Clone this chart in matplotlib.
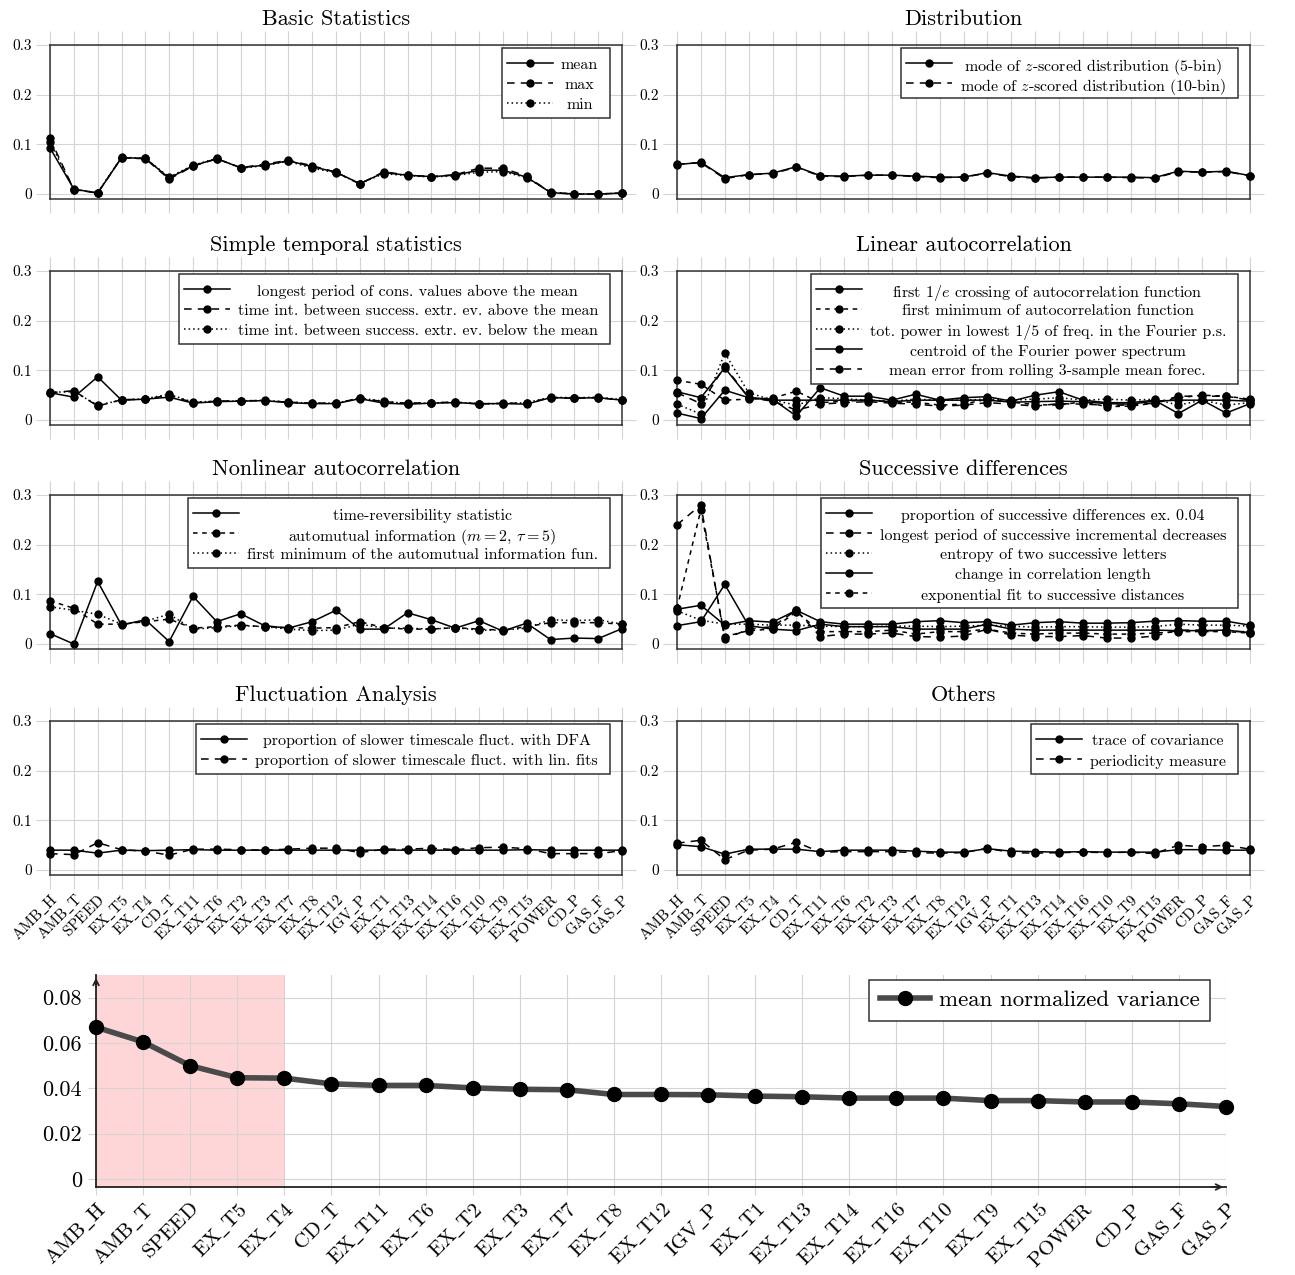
import numpy as np
import matplotlib.pyplot as plt
from matplotlib.lines import Line2D
from matplotlib.patches import Rectangle
from matplotlib.transforms import Affine2D

plt.rcParams['font.family'] = ['cmr10', 'DejaVu Serif']
plt.rcParams['mathtext.fontset'] = 'cm'
plt.rcParams['axes.formatter.use_mathtext'] = True
plt.rcParams['axes.unicode_minus'] = False

# sensors, ordered by mean normalized variance
sensors = ['AMB_H', 'AMB_T', 'SPEED', 'EX_T5', 'EX_T4', 'CD_T', 'EX_T11', 'EX_T6',
           'EX_T2', 'EX_T3', 'EX_T7', 'EX_T8', 'EX_T12', 'IGV_P', 'EX_T1', 'EX_T13',
           'EX_T14', 'EX_T16', 'EX_T10', 'EX_T9', 'EX_T15', 'POWER', 'CD_P', 'GAS_F', 'GAS_P']

mean_norm_var = [0.0670, 0.0605, 0.0500, 0.0447, 0.0445, 0.0420, 0.0413, 0.0413, 0.0402,
                 0.0396, 0.0394, 0.0373, 0.0373, 0.0372, 0.0366, 0.0363, 0.0357, 0.0357,
                 0.0357, 0.0346, 0.0346, 0.0340, 0.0340, 0.0332, 0.0320]

# Basic statistics
bs_mean = [0.093, 0.010, 0.002, 0.073, 0.072, 0.032, 0.057, 0.071, 0.053, 0.058, 0.067, 0.055, 0.044,
           0.021, 0.043, 0.038, 0.035, 0.038, 0.048, 0.048, 0.034, 0.003, 0.000, 0.000, 0.002]
bs_max = [0.112, 0.009, 0.002, 0.073, 0.071, 0.030, 0.056, 0.071, 0.053, 0.060, 0.068, 0.057, 0.044,
          0.020, 0.045, 0.038, 0.035, 0.039, 0.052, 0.052, 0.036, 0.003, 0.000, 0.000, 0.002]
bs_min = [0.105, 0.009, 0.003, 0.074, 0.072, 0.034, 0.058, 0.072, 0.052, 0.057, 0.066, 0.052, 0.043,
          0.021, 0.041, 0.037, 0.034, 0.037, 0.044, 0.045, 0.033, 0.004, 0.000, 0.000, 0.002]

# Distribution
dist_5 = [0.059, 0.064, 0.033, 0.039, 0.042, 0.055, 0.037, 0.036, 0.038, 0.038, 0.036, 0.034, 0.034,
          0.043, 0.036, 0.033, 0.034, 0.034, 0.034, 0.034, 0.033, 0.046, 0.044, 0.046, 0.037]
dist_10 = [0.060, 0.063, 0.031, 0.039, 0.041, 0.054, 0.036, 0.035, 0.038, 0.038, 0.035, 0.033, 0.034,
           0.042, 0.035, 0.032, 0.034, 0.034, 0.034, 0.033, 0.032, 0.045, 0.044, 0.045, 0.037]

# Simple temporal statistics
st_longest = [0.055, 0.046, 0.087, 0.040, 0.042, 0.046, 0.034, 0.037, 0.038, 0.039, 0.035, 0.033, 0.033,
              0.043, 0.034, 0.032, 0.034, 0.035, 0.033, 0.033, 0.032, 0.045, 0.044, 0.045, 0.040]
st_above = [0.055, 0.059, 0.028, 0.041, 0.042, 0.050, 0.035, 0.038, 0.039, 0.039, 0.036, 0.034, 0.034,
            0.044, 0.037, 0.034, 0.035, 0.036, 0.032, 0.034, 0.034, 0.045, 0.044, 0.045, 0.040]
st_below = [0.056, 0.057, 0.030, 0.040, 0.043, 0.052, 0.036, 0.038, 0.038, 0.040, 0.036, 0.034, 0.034,
            0.044, 0.038, 0.033, 0.034, 0.036, 0.033, 0.033, 0.035, 0.046, 0.045, 0.046, 0.041]

# Linear autocorrelation
la_e_cross = [0.014, 0.003, 0.060, 0.045, 0.042, 0.008, 0.065, 0.048, 0.048, 0.040, 0.052, 0.040, 0.045,
              0.047, 0.038, 0.050, 0.057, 0.040, 0.035, 0.035, 0.040, 0.013, 0.040, 0.014, 0.033]
la_first_min = [0.080, 0.072, 0.040, 0.042, 0.044, 0.058, 0.035, 0.038, 0.040, 0.036, 0.036, 0.030, 0.032,
                0.042, 0.036, 0.031, 0.030, 0.037, 0.027, 0.028, 0.034, 0.045, 0.050, 0.048, 0.042]
la_low_power = [0.032, 0.012, 0.135, 0.055, 0.040, 0.030, 0.045, 0.043, 0.040, 0.038, 0.042, 0.040, 0.040,
                0.042, 0.040, 0.042, 0.045, 0.040, 0.042, 0.040, 0.042, 0.030, 0.040, 0.030, 0.035]
la_centroid = [0.057, 0.045, 0.105, 0.045, 0.040, 0.040, 0.040, 0.040, 0.040, 0.037, 0.040, 0.040, 0.040,
               0.040, 0.036, 0.037, 0.038, 0.037, 0.033, 0.032, 0.038, 0.040, 0.040, 0.040, 0.038]
la_mean_err = [0.055, 0.033, 0.108, 0.045, 0.038, 0.020, 0.032, 0.035, 0.037, 0.034, 0.032, 0.028, 0.030,
               0.035, 0.032, 0.028, 0.033, 0.032, 0.030, 0.030, 0.034, 0.048, 0.048, 0.048, 0.040]

# Nonlinear autocorrelation
na_trev = [0.021, 0.000, 0.126, 0.038, 0.049, 0.005, 0.096, 0.045, 0.061, 0.037, 0.032, 0.045, 0.068,
           0.030, 0.030, 0.063, 0.049, 0.032, 0.047, 0.026, 0.042, 0.009, 0.012, 0.011, 0.031]
na_ami = [0.087, 0.072, 0.040, 0.040, 0.045, 0.050, 0.032, 0.035, 0.038, 0.035, 0.033, 0.032, 0.033,
          0.045, 0.033, 0.030, 0.030, 0.033, 0.030, 0.028, 0.035, 0.043, 0.043, 0.043, 0.040]
na_ami_min = [0.075, 0.068, 0.060, 0.040, 0.046, 0.060, 0.030, 0.033, 0.037, 0.035, 0.030, 0.027, 0.028,
              0.040, 0.032, 0.032, 0.030, 0.033, 0.028, 0.028, 0.032, 0.049, 0.047, 0.049, 0.040]

# Successive differences
sd_prop = [0.070, 0.078, 0.038, 0.047, 0.044, 0.068, 0.045, 0.040, 0.040, 0.040, 0.045, 0.047, 0.043,
           0.045, 0.038, 0.043, 0.045, 0.042, 0.042, 0.043, 0.046, 0.047, 0.046, 0.046, 0.038]
sd_decr = [0.240, 0.280, 0.010, 0.030, 0.035, 0.068, 0.015, 0.020, 0.020, 0.022, 0.015, 0.014, 0.016,
           0.030, 0.018, 0.015, 0.015, 0.017, 0.012, 0.012, 0.016, 0.028, 0.028, 0.025, 0.025]
sd_entropy = [0.067, 0.048, 0.040, 0.040, 0.038, 0.038, 0.036, 0.035, 0.035, 0.036, 0.036, 0.035, 0.036,
              0.038, 0.036, 0.034, 0.035, 0.035, 0.034, 0.034, 0.035, 0.040, 0.038, 0.038, 0.036]
sd_corr_len = [0.037, 0.045, 0.120, 0.037, 0.030, 0.027, 0.040, 0.035, 0.035, 0.035, 0.030, 0.030, 0.030,
               0.040, 0.030, 0.028, 0.028, 0.028, 0.028, 0.028, 0.028, 0.027, 0.027, 0.028, 0.023]
sd_exp_fit = [0.072, 0.270, 0.015, 0.027, 0.030, 0.065, 0.025, 0.025, 0.025, 0.028, 0.020, 0.025, 0.025,
              0.030, 0.022, 0.020, 0.022, 0.022, 0.020, 0.020, 0.022, 0.025, 0.025, 0.025, 0.022]

# Fluctuation analysis
fa_dfa = [0.040, 0.040, 0.034, 0.040, 0.039, 0.040, 0.041, 0.040, 0.040, 0.040, 0.040, 0.040, 0.040,
          0.040, 0.040, 0.040, 0.040, 0.040, 0.040, 0.040, 0.041, 0.040, 0.040, 0.040, 0.040]
fa_lin = [0.033, 0.031, 0.055, 0.041, 0.038, 0.030, 0.042, 0.042, 0.041, 0.040, 0.042, 0.044, 0.044,
          0.035, 0.042, 0.042, 0.044, 0.041, 0.045, 0.046, 0.043, 0.033, 0.033, 0.033, 0.039]

# Others
ot_trace = [0.051, 0.047, 0.032, 0.042, 0.042, 0.042, 0.037, 0.040, 0.040, 0.040, 0.038, 0.036, 0.036,
            0.043, 0.038, 0.037, 0.036, 0.037, 0.036, 0.036, 0.036, 0.041, 0.041, 0.040, 0.040]
ot_period = [0.054, 0.060, 0.021, 0.040, 0.042, 0.056, 0.036, 0.037, 0.037, 0.037, 0.035, 0.034, 0.035,
             0.044, 0.035, 0.034, 0.035, 0.036, 0.035, 0.036, 0.033, 0.050, 0.047, 0.050, 0.042]

SOLID = '-'
DASH = (0, (5, 4))
DDASH = (0, (3, 3))
DOT = (0, (1, 2))

panels = [
    ('Basic Statistics', [('mean', bs_mean, SOLID), ('max', bs_max, DASH), ('min', bs_min, DOT)]),
    ('Distribution', [(r'mode of $z$-scored distribution (5-bin)', dist_5, SOLID),
                      (r'mode of $z$-scored distribution (10-bin)', dist_10, DASH)]),
    ('Simple temporal statistics', [
        ('longest period of cons. values above the mean', st_longest, SOLID),
        ('time int. between success. extr. ev. above the mean', st_above, DASH),
        ('time int. between success. extr. ev. below the mean', st_below, DOT)]),
    ('Linear autocorrelation', [
        (r'first $1/e$ crossing of autocorrelation function', la_e_cross, SOLID),
        ('first minimum of autocorrelation function', la_first_min, DDASH),
        ('tot. power in lowest 1/5 of freq. in the Fourier p.s.', la_low_power, DOT),
        ('centroid of the Fourier power spectrum', la_centroid, SOLID),
        ('mean error from rolling 3-sample mean forec.', la_mean_err, DASH)]),
    ('Nonlinear autocorrelation', [
        ('time-reversibility statistic', na_trev, SOLID),
        (r'automutual information ($m = 2$, $\tau = 5$)', na_ami, DDASH),
        ('first minimum of the automutual information fun.', na_ami_min, DOT)]),
    ('Successive differences', [
        ('proportion of successive differences ex. 0.04', sd_prop, SOLID),
        ('longest period of successive incremental decreases', sd_decr, DASH),
        ('entropy of two successive letters', sd_entropy, DOT),
        ('change in correlation length', sd_corr_len, SOLID),
        ('exponential fit to successive distances', sd_exp_fit, DDASH)]),
    ('Fluctuation Analysis', [
        ('proportion of slower timescale fluct. with DFA', fa_dfa, SOLID),
        ('proportion of slower timescale fluct. with lin. fits', fa_lin, DASH)]),
    ('Others', [('trace of covariance', ot_trace, SOLID), ('periodicity measure', ot_period, DASH)]),
]

W, H = 1295, 1275
fig = plt.figure(figsize=(W / 100, H / 100), dpi=100)
renderer = fig.canvas.get_renderer()
# pixel coordinates, origin top-left
px = Affine2D().scale(1 / W, -1 / H).translate(0, 1) + fig.transFigure


def add_axes_px(left, top, right, bottom):
    return fig.add_axes([left / W, 1 - bottom / H, (right - left) / W, (bottom - top) / H])


def draw_key(entries, right, top, fontsize=11.5, row=20, handle=46):
    # boxed key: handle column on the left, labels centred in their column
    texts = [fig.text(0, 0, lab, fontsize=fontsize, ha='center', va='center_baseline',
                      transform=px, zorder=7) for lab, ls in entries]
    tw = max(t.get_window_extent(renderer).width for t in texts)
    left = right - (5 + handle + 8 + tw + 12)
    fig.add_artist(Rectangle((left, top), right - left, row * len(entries) + 10, transform=px,
                             fc='white', ec='#333333', lw=1.1, zorder=5))
    for k, (t, (lab, ls)) in enumerate(zip(texts, entries)):
        y = top + 5 + row * (k + 0.5)
        h0 = left + 5
        fig.add_artist(Line2D([h0, h0 + handle], [y, y], transform=px, color='black', ls=ls, lw=1.1, zorder=6))
        fig.add_artist(Line2D([h0 + handle / 2], [y], transform=px, color='black', marker='o', ms=5, zorder=6))
        t.set_position((h0 + handle + 8 + tw / 2, y + 1))


def tick_name(s):
    return r'$\mathrm{' + s.replace('_', r'\_') + '}$'


x = np.arange(len(sensors))
names = [tick_name(s) for s in sensors]
grid_c = '#d4d4d4'
cols = [(50, 622), (677, 1250)]
row_tops = [45, 271, 495, 721]

for i, (title, series) in enumerate(panels):
    r, c = divmod(i, 2)
    left, right = cols[c]
    top = row_tops[r]
    ax = add_axes_px(left, top, right, top + 154)
    for label, vals, ls in series:
        ax.plot(x, vals, color='black', ls=ls, lw=1.1, marker='o', ms=5, clip_on=False, zorder=3)
    ax.set_xlim(0, len(sensors) - 1)
    ax.set_ylim(-0.01, 0.3)
    ax.set_yticks([0, 0.1, 0.2, 0.3])
    ax.set_yticklabels(['0', '0.1', '0.2', '0.3'])
    ax.set_xticks(x)
    if r == 3:
        ax.set_xticklabels(names, rotation=45, ha='right', va='top', rotation_mode='anchor', fontsize=9.5)
    else:
        ax.set_xticklabels([])
    ax.grid(True, color=grid_c, lw=0.8)
    ax.set_axisbelow(True)
    ax.tick_params(direction='out', length=10, width=0.8, color=grid_c, top=True, right=True,
                   labelsize=11, pad=3)
    ax.tick_params(axis='x', pad=2)
    for s in ax.spines.values():
        s.set_color('#333333')
        s.set_linewidth(1.1)
    fig.text((left + right) / 2, top - 20, title, ha='center', va='baseline', fontsize=16, transform=px)
    draw_key([(label, ls) for label, vals, ls in series], right - 12, top + 3)

# mean normalized variance per sensor
ax = add_axes_px(96, 975, 1226, 1187)
ax.axvspan(0, 4, color='#ffd6d7', lw=0, zorder=0)
ax.plot(x, mean_norm_var, color='#4a4a4a', lw=4, marker='o', ms=10, mfc='black', mec='black',
        label='mean normalized variance', clip_on=False, zorder=3)
ax.set_xlim(0, len(sensors) - 1)
ax.set_ylim(-0.0035, 0.09)
ax.set_yticks([0, 0.02, 0.04, 0.06, 0.08])
ax.set_yticklabels(['0', '0.02', '0.04', '0.06', '0.08'])
ax.set_xticks(x)
ax.set_xticklabels(names, rotation=45, ha='right', va='top', rotation_mode='anchor', fontsize=15)
ax.tick_params(axis='y', labelsize=16)
ax.tick_params(direction='out', length=6, width=0.8, color=grid_c, pad=4)
ax.tick_params(axis='x', pad=3)
ax.grid(True, color=grid_c, lw=0.8)
ax.set_axisbelow(True)
for side in ('top', 'right'):
    ax.spines[side].set_visible(False)
for side in ('left', 'bottom'):
    ax.spines[side].set_color('#222222')
    ax.spines[side].set_linewidth(1.3)
ax.annotate('', xy=(1.0, 0), xytext=(0.985, 0), xycoords='axes fraction',
            arrowprops=dict(arrowstyle='->', lw=1.3, color='#222222'))
ax.annotate('', xy=(0, 1.0), xytext=(0, 0.93), xycoords='axes fraction',
            arrowprops=dict(arrowstyle='->', lw=1.3, color='#222222'))
leg = ax.legend(loc='upper right', bbox_to_anchor=(0.986, 0.976), borderaxespad=0, fancybox=False,
                edgecolor='#333333', framealpha=1, fontsize=16.5, handlelength=2.2, borderpad=0.45,
                handletextpad=0.4)
leg.get_frame().set_linewidth(1.1)

fig.savefig('out.png', dpi=100)
